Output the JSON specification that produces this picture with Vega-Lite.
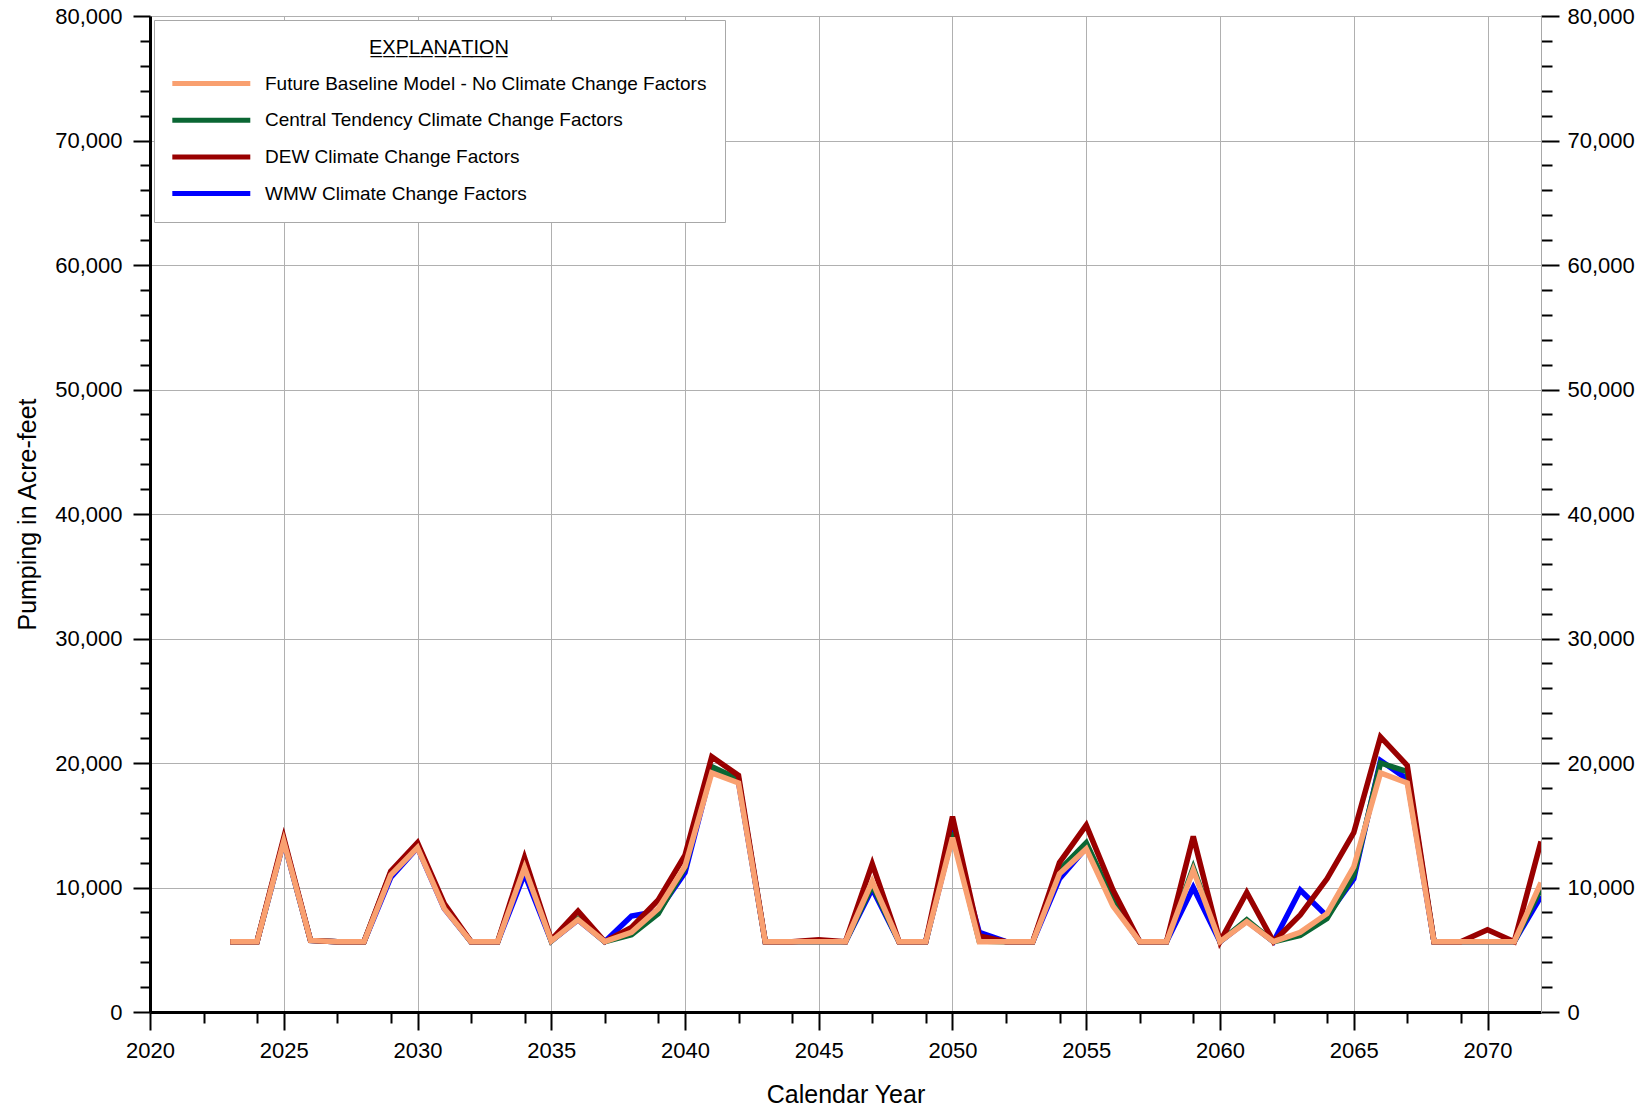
{
  "$schema": "https://vega.github.io/schema/vega-lite/v6.json",
  "width": 1391,
  "height": 996,
  "autosize": "none",
  "padding": {"left": 150, "top": 16, "right": 104, "bottom": 99},
  "background": "white",
  "config": {
    "view": {"stroke": null},
    "font": "Liberation Sans Narrow, Arial Narrow, Liberation Sans, Arial, sans-serif"
  },
  "data": {
    "values": [
      {"year": 2023, "WMW Climate Change Factors": 5650, "Central Tendency Climate Change Factors": 5650, "DEW Climate Change Factors": 5650, "Future Baseline Model - No Climate Change Factors": 5650},
      {"year": 2024, "WMW Climate Change Factors": 5650, "Central Tendency Climate Change Factors": 5650, "DEW Climate Change Factors": 5650, "Future Baseline Model - No Climate Change Factors": 5650},
      {"year": 2025, "WMW Climate Change Factors": 13700, "Central Tendency Climate Change Factors": 13800, "DEW Climate Change Factors": 14000, "Future Baseline Model - No Climate Change Factors": 13700},
      {"year": 2026, "WMW Climate Change Factors": 5750, "Central Tendency Climate Change Factors": 5750, "DEW Climate Change Factors": 5750, "Future Baseline Model - No Climate Change Factors": 5750},
      {"year": 2027, "WMW Climate Change Factors": 5650, "Central Tendency Climate Change Factors": 5650, "DEW Climate Change Factors": 5650, "Future Baseline Model - No Climate Change Factors": 5650},
      {"year": 2028, "WMW Climate Change Factors": 5650, "Central Tendency Climate Change Factors": 5650, "DEW Climate Change Factors": 5650, "Future Baseline Model - No Climate Change Factors": 5650},
      {"year": 2029, "WMW Climate Change Factors": 10800, "Central Tendency Climate Change Factors": 11200, "DEW Climate Change Factors": 11300, "Future Baseline Model - No Climate Change Factors": 11000},
      {"year": 2030, "WMW Climate Change Factors": 13200, "Central Tendency Climate Change Factors": 13400, "DEW Climate Change Factors": 13600, "Future Baseline Model - No Climate Change Factors": 13200},
      {"year": 2031, "WMW Climate Change Factors": 8300, "Central Tendency Climate Change Factors": 8400, "DEW Climate Change Factors": 8700, "Future Baseline Model - No Climate Change Factors": 8300},
      {"year": 2032, "WMW Climate Change Factors": 5650, "Central Tendency Climate Change Factors": 5650, "DEW Climate Change Factors": 5650, "Future Baseline Model - No Climate Change Factors": 5650},
      {"year": 2033, "WMW Climate Change Factors": 5650, "Central Tendency Climate Change Factors": 5650, "DEW Climate Change Factors": 5650, "Future Baseline Model - No Climate Change Factors": 5650},
      {"year": 2034, "WMW Climate Change Factors": 11100, "Central Tendency Climate Change Factors": 11900, "DEW Climate Change Factors": 12400, "Future Baseline Model - No Climate Change Factors": 11600},
      {"year": 2035, "WMW Climate Change Factors": 5700, "Central Tendency Climate Change Factors": 5700, "DEW Climate Change Factors": 5800, "Future Baseline Model - No Climate Change Factors": 5700},
      {"year": 2036, "WMW Climate Change Factors": 7400, "Central Tendency Climate Change Factors": 7500, "DEW Climate Change Factors": 8100, "Future Baseline Model - No Climate Change Factors": 7400},
      {"year": 2037, "WMW Climate Change Factors": 5650, "Central Tendency Climate Change Factors": 5650, "DEW Climate Change Factors": 5650, "Future Baseline Model - No Climate Change Factors": 5650},
      {"year": 2038, "WMW Climate Change Factors": 7700, "Central Tendency Climate Change Factors": 6200, "DEW Climate Change Factors": 6800, "Future Baseline Model - No Climate Change Factors": 6400},
      {"year": 2039, "WMW Climate Change Factors": 8100, "Central Tendency Climate Change Factors": 7900, "DEW Climate Change Factors": 9000, "Future Baseline Model - No Climate Change Factors": 8300},
      {"year": 2040, "WMW Climate Change Factors": 11200, "Central Tendency Climate Change Factors": 11600, "DEW Climate Change Factors": 12600, "Future Baseline Model - No Climate Change Factors": 11700},
      {"year": 2041, "WMW Climate Change Factors": 19500, "Central Tendency Climate Change Factors": 19700, "DEW Climate Change Factors": 20500, "Future Baseline Model - No Climate Change Factors": 19200},
      {"year": 2042, "WMW Climate Change Factors": 18500, "Central Tendency Climate Change Factors": 18700, "DEW Climate Change Factors": 19000, "Future Baseline Model - No Climate Change Factors": 18400},
      {"year": 2043, "WMW Climate Change Factors": 5650, "Central Tendency Climate Change Factors": 5650, "DEW Climate Change Factors": 5650, "Future Baseline Model - No Climate Change Factors": 5650},
      {"year": 2044, "WMW Climate Change Factors": 5650, "Central Tendency Climate Change Factors": 5650, "DEW Climate Change Factors": 5650, "Future Baseline Model - No Climate Change Factors": 5650},
      {"year": 2045, "WMW Climate Change Factors": 5650, "Central Tendency Climate Change Factors": 5650, "DEW Climate Change Factors": 5800, "Future Baseline Model - No Climate Change Factors": 5650},
      {"year": 2046, "WMW Climate Change Factors": 5650, "Central Tendency Climate Change Factors": 5650, "DEW Climate Change Factors": 5650, "Future Baseline Model - No Climate Change Factors": 5650},
      {"year": 2047, "WMW Climate Change Factors": 9900, "Central Tendency Climate Change Factors": 10200, "DEW Climate Change Factors": 11900, "Future Baseline Model - No Climate Change Factors": 10500},
      {"year": 2048, "WMW Climate Change Factors": 5650, "Central Tendency Climate Change Factors": 5650, "DEW Climate Change Factors": 5650, "Future Baseline Model - No Climate Change Factors": 5650},
      {"year": 2049, "WMW Climate Change Factors": 5650, "Central Tendency Climate Change Factors": 5650, "DEW Climate Change Factors": 5650, "Future Baseline Model - No Climate Change Factors": 5650},
      {"year": 2050, "WMW Climate Change Factors": 14200, "Central Tendency Climate Change Factors": 14400, "DEW Climate Change Factors": 15700, "Future Baseline Model - No Climate Change Factors": 14000},
      {"year": 2051, "WMW Climate Change Factors": 6400, "Central Tendency Climate Change Factors": 5700, "DEW Climate Change Factors": 6100, "Future Baseline Model - No Climate Change Factors": 5650},
      {"year": 2052, "WMW Climate Change Factors": 5650, "Central Tendency Climate Change Factors": 5650, "DEW Climate Change Factors": 5650, "Future Baseline Model - No Climate Change Factors": 5650},
      {"year": 2053, "WMW Climate Change Factors": 5650, "Central Tendency Climate Change Factors": 5650, "DEW Climate Change Factors": 5650, "Future Baseline Model - No Climate Change Factors": 5650},
      {"year": 2054, "WMW Climate Change Factors": 10700, "Central Tendency Climate Change Factors": 11400, "DEW Climate Change Factors": 12000, "Future Baseline Model - No Climate Change Factors": 11100},
      {"year": 2055, "WMW Climate Change Factors": 13200, "Central Tendency Climate Change Factors": 13600, "DEW Climate Change Factors": 15000, "Future Baseline Model - No Climate Change Factors": 13100},
      {"year": 2056, "WMW Climate Change Factors": 8700, "Central Tendency Climate Change Factors": 9000, "DEW Climate Change Factors": 9800, "Future Baseline Model - No Climate Change Factors": 8500},
      {"year": 2057, "WMW Climate Change Factors": 5650, "Central Tendency Climate Change Factors": 5650, "DEW Climate Change Factors": 5650, "Future Baseline Model - No Climate Change Factors": 5650},
      {"year": 2058, "WMW Climate Change Factors": 5650, "Central Tendency Climate Change Factors": 5650, "DEW Climate Change Factors": 5650, "Future Baseline Model - No Climate Change Factors": 5650},
      {"year": 2059, "WMW Climate Change Factors": 10000, "Central Tendency Climate Change Factors": 11600, "DEW Climate Change Factors": 14100, "Future Baseline Model - No Climate Change Factors": 11400},
      {"year": 2060, "WMW Climate Change Factors": 5650, "Central Tendency Climate Change Factors": 5650, "DEW Climate Change Factors": 5650, "Future Baseline Model - No Climate Change Factors": 5650},
      {"year": 2061, "WMW Climate Change Factors": 7300, "Central Tendency Climate Change Factors": 7400, "DEW Climate Change Factors": 9600, "Future Baseline Model - No Climate Change Factors": 7250},
      {"year": 2062, "WMW Climate Change Factors": 5650, "Central Tendency Climate Change Factors": 5650, "DEW Climate Change Factors": 5650, "Future Baseline Model - No Climate Change Factors": 5650},
      {"year": 2063, "WMW Climate Change Factors": 9800, "Central Tendency Climate Change Factors": 6150, "DEW Climate Change Factors": 7800, "Future Baseline Model - No Climate Change Factors": 6400},
      {"year": 2064, "WMW Climate Change Factors": 7700, "Central Tendency Climate Change Factors": 7500, "DEW Climate Change Factors": 10700, "Future Baseline Model - No Climate Change Factors": 7900},
      {"year": 2065, "WMW Climate Change Factors": 10700, "Central Tendency Climate Change Factors": 11000, "DEW Climate Change Factors": 14400, "Future Baseline Model - No Climate Change Factors": 11650},
      {"year": 2066, "WMW Climate Change Factors": 20200, "Central Tendency Climate Change Factors": 20000, "DEW Climate Change Factors": 22100, "Future Baseline Model - No Climate Change Factors": 19200},
      {"year": 2067, "WMW Climate Change Factors": 18700, "Central Tendency Climate Change Factors": 19300, "DEW Climate Change Factors": 19800, "Future Baseline Model - No Climate Change Factors": 18400},
      {"year": 2068, "WMW Climate Change Factors": 5650, "Central Tendency Climate Change Factors": 5650, "DEW Climate Change Factors": 5650, "Future Baseline Model - No Climate Change Factors": 5650},
      {"year": 2069, "WMW Climate Change Factors": 5650, "Central Tendency Climate Change Factors": 5650, "DEW Climate Change Factors": 5650, "Future Baseline Model - No Climate Change Factors": 5650},
      {"year": 2070, "WMW Climate Change Factors": 5650, "Central Tendency Climate Change Factors": 5650, "DEW Climate Change Factors": 6600, "Future Baseline Model - No Climate Change Factors": 5650},
      {"year": 2071, "WMW Climate Change Factors": 5650, "Central Tendency Climate Change Factors": 5650, "DEW Climate Change Factors": 5650, "Future Baseline Model - No Climate Change Factors": 5650},
      {"year": 2072, "WMW Climate Change Factors": 9300, "Central Tendency Climate Change Factors": 9900, "DEW Climate Change Factors": 13700, "Future Baseline Model - No Climate Change Factors": 10400}
    ]
  },
  "transform": [
    {"fold": ["WMW Climate Change Factors", "Central Tendency Climate Change Factors", "DEW Climate Change Factors", "Future Baseline Model - No Climate Change Factors"], "as": ["scenario", "value"]}
  ],
  "layer": [
    {
      "mark": {"type": "line", "opacity": 0},
      "encoding": {
        "x": {"field": "year", "type": "quantitative"},
        "y": {
          "field": "value",
          "type": "quantitative",
          "axis": {
            "orient": "right",
            "values": [0,2000,4000,6000,8000,10000,12000,14000,16000,18000,20000,22000,24000,26000,28000,30000,32000,34000,36000,38000,40000,42000,44000,46000,48000,50000,52000,54000,56000,58000,60000,62000,64000,66000,68000,70000,72000,74000,76000,78000,80000],
            "labelExpr": "datum.value % 10000 === 0 ? format(datum.value, ',') : ''",
            "tickSize": {"condition": {"test": "datum.value % 10000 === 0", "value": 18}, "value": 11},
            "tickColor": "black",
            "tickWidth": 2,
            "domainColor": "#a8a8a8",
            "domainWidth": 1,
            "grid": false,
            "labelFontSize": 22,
            "labelColor": "black",
            "labelPadding": 8,
            "title": null
          }
        },
        "detail": {"field": "scenario"}
      }
    },
    {
      "mark": {"type": "line", "strokeWidth": 5.5, "clip": true},
      "encoding": {
        "x": {
          "field": "year",
          "type": "quantitative",
          "scale": {"domain": [2020, 2072], "nice": false, "zero": false},
          "axis": {
            "values": [2020,2022,2024,2025,2027,2029,2030,2032,2034,2035,2037,2039,2040,2042,2044,2045,2047,2049,2050,2052,2054,2055,2057,2059,2060,2062,2064,2065,2067,2069,2070],
            "format": "d",
            "labelExpr": "datum.value % 5 === 0 ? datum.label : ''",
            "tickSize": {"condition": {"test": "datum.value % 5 === 0", "value": 18}, "value": 11},
            "tickColor": "black",
            "tickWidth": 2,
            "domainColor": "black",
            "domainWidth": 3,
            "grid": true,
            "gridColor": "#b0b0b0",
            "gridWidth": 1,
            "gridOpacity": {"condition": {"test": "datum.value % 5 === 0", "value": 1}, "value": 0},
            "labelFontSize": 22,
            "labelColor": "black",
            "labelPadding": 10,
            "labelFlush": false,
            "labelOverlap": false,
            "title": "Calendar Year",
            "titleFontSize": 25,
            "titleFontWeight": "normal",
            "titleColor": "black",
            "titlePadding": 21
          }
        },
        "y": {
          "field": "value",
          "type": "quantitative",
          "scale": {"domain": [0, 80000], "nice": false},
          "axis": {
            "orient": "left",
            "values": [0,2000,4000,6000,8000,10000,12000,14000,16000,18000,20000,22000,24000,26000,28000,30000,32000,34000,36000,38000,40000,42000,44000,46000,48000,50000,52000,54000,56000,58000,60000,62000,64000,66000,68000,70000,72000,74000,76000,78000,80000],
            "labelExpr": "datum.value % 10000 === 0 ? format(datum.value, ',') : ''",
            "tickSize": {"condition": {"test": "datum.value % 10000 === 0", "value": 17}, "value": 10},
            "tickColor": "black",
            "tickWidth": 2,
            "domainColor": "black",
            "domainWidth": 3,
            "grid": true,
            "gridColor": "#b0b0b0",
            "gridWidth": 1,
            "gridOpacity": {"condition": {"test": "datum.value % 10000 === 0", "value": 1}, "value": 0},
            "labelFontSize": 22,
            "labelColor": "black",
            "labelPadding": 11,
            "title": "Pumping in Acre-feet",
            "titleFontSize": 25,
            "titleFontWeight": "normal",
            "titleColor": "black",
            "titlePadding": 14
          }
        },
        "color": {
          "field": "scenario",
          "type": "nominal",
          "scale": {
            "domain": ["Future Baseline Model - No Climate Change Factors", "Central Tendency Climate Change Factors", "DEW Climate Change Factors", "WMW Climate Change Factors"],
            "range": ["#F9A070", "#0A6633", "#990000", "#0000FF"]
          },
          "legend": {
            "orient": "none",
            "legendX": 4,
            "legendY": 4,
            "title": "E̲X̲P̲L̲A̲N̲A̲T̲I̲O̲N̲",
            "titleAnchor": "middle",
            "titleAlign": "center",
            "titleFontSize": 20,
            "titleFontWeight": "normal",
            "titleColor": "black",
            "titlePadding": 13,
            "symbolType": "M -1.25 0 L 6.75 0",
            "symbolSize": 380,
            "symbolStrokeWidth": 5,
            "symbolOpacity": 1,
            "labelFontSize": 19,
            "labelColor": "black",
            "labelOffset": 68,
            "labelLimit": 700,
            "rowPadding": 13.7,
            "padding": 18,
            "strokeColor": "#a8a8a8",
            "fillColor": "white"
          }
        }
      }
    }
  ],
  "resolve": {"axis": {"y": "independent"}}
}
